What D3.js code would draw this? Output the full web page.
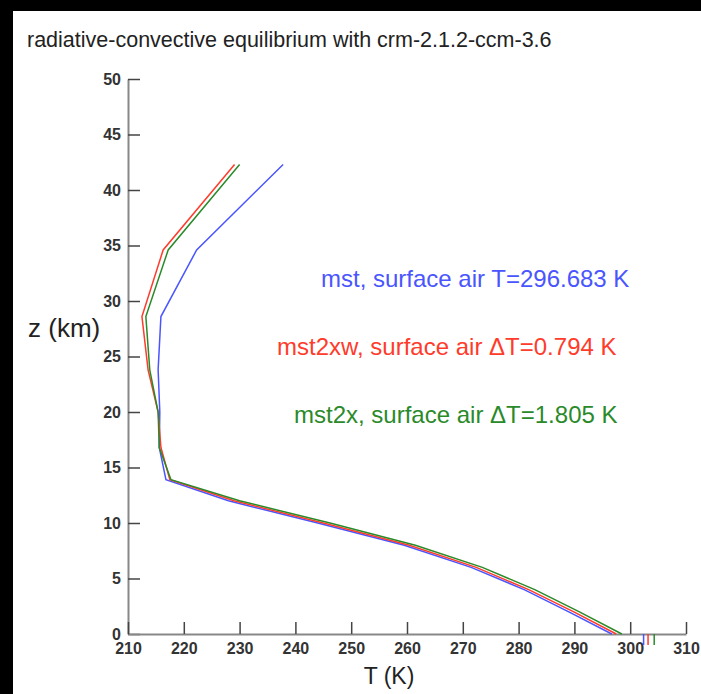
<!DOCTYPE html>
<html>
<head>
<meta charset="utf-8">
<script src="https://cdn.jsdelivr.net/npm/d3@7"></script>
<style>
  body { margin: 0; background: #000; }
  svg { display: block; font-family: "Liberation Sans", Arial, sans-serif; }
  .axis path.domain { stroke: #888; stroke-width: 2; }
  .axis .tick line { stroke: #444; stroke-width: 1.5; }
  .axis .tick text { fill: #333; font-size: 16px; font-weight: bold; }
</style>
</head>
<body>
<div id="chart"></div>
<script>

// temperature profiles (K) at heights (km)
var zLevels  = [0, 2, 4, 6, 8, 10, 12, 13.9, 16.8, 20, 23.8, 28.6, 34.6, 42.3];
var tMst     = [296.7, 289.0, 281.0, 271.5, 259.5, 244.0, 228.0, 216.8, 215.6, 215.7, 215.4, 215.9, 222.3, 237.8];
var tMst2xw  = [297.5, 289.9, 281.8, 272.4, 260.4, 245.0, 229.0, 217.5, 215.9, 215.4, 213.6, 212.5, 216.3, 229.1];
var tMst2x   = [298.5, 290.9, 282.9, 273.5, 261.5, 246.2, 230.0, 217.7, 215.6, 215.4, 213.9, 213.2, 217.2, 230.0];

// ground temperatures marked under the axis
var groundT = [302.4, 303.2, 304.3];

var seriesNames  = ["mst", "mst2xw", "mst2x"];
var seriesColors = ["#4a55ff", "#ff3b2b", "#2a8a2a"];
var legendTexts  = ["mst, surface air T=296.683 K",
                    "mst2xw, surface air \u0394T=0.794 K",
                    "mst2x, surface air \u0394T=1.805 K"];

var xTicks = [210, 220, 230, 240, 250, 260, 270, 280, 290, 300, 310];
var yTicks = [0, 5, 10, 15, 20, 25, 30, 35, 40, 45, 50];

var svg_dx = 701,
    svg_dy = 694;

var x = d3.scaleLinear().domain([210, 310]).range([128, 686]),
    y = d3.scaleLinear().domain([0, 50]).range([634, 79]);

var svg = d3.select("#chart")
            .append("svg")
            .attr("width", svg_dx)
            .attr("height", svg_dy);

// white page inside the black frame
svg.append("rect")
   .attr("x", 13)
   .attr("y", 11)
   .attr("width", svg_dx - 13)
   .attr("height", svg_dy - 11)
   .attr("fill", "#fff");

svg.append("text")
   .attr("x", 27)
   .attr("y", 47)
   .style("font-size", "21.5px")
   .style("fill", "#222")
   .text("radiative-convective equilibrium with crm-2.1.2-ccm-3.6");

// axes, ticks pointing inward
svg.append("g")
   .attr("class", "axis")
   .attr("transform", "translate(" + x(210) + ",0)")
   .call(d3.axisLeft(y).tickValues(yTicks).tickSizeInner(-12).tickSizeOuter(0).tickPadding(7));

svg.append("g")
   .attr("class", "axis")
   .attr("transform", "translate(0," + y(0) + ")")
   .call(d3.axisBottom(x).tickValues(xTicks).tickSizeInner(-12).tickSizeOuter(0).tickPadding(9));

svg.append("text")
   .attr("x", 28)
   .attr("y", 337)
   .style("font-size", "26px")
   .style("fill", "#222")
   .text("z (km)");

svg.append("text")
   .attr("x", 389)
   .attr("y", 684)
   .attr("text-anchor", "middle")
   .style("font-size", "23px")
   .style("fill", "#222")
   .text("T (K)");

var profiles = [tMst, tMst2xw, tMst2x];

var line = d3.line()
    .x(d => x(d[0]))
    .y(d => y(d[1]));

profiles.forEach(function (temps, i) {
    svg.append("path")
       .datum(temps.map((t, j) => [t, zLevels[j]]))
       .attr("class", "profile " + seriesNames[i])
       .attr("fill", "none")
       .attr("stroke", seriesColors[i])
       .attr("stroke-width", 1.5)
       .attr("d", line);
});

svg.append("g")
   .selectAll("line")
   .data(groundT)
   .enter()
   .append("line")
   .attr("x1", d => x(d))
   .attr("x2", d => x(d))
   .attr("y1", y(0))
   .attr("y2", y(0) + 11)
   .attr("stroke", (d, i) => seriesColors[i])
   .attr("stroke-width", 1.5);

var legendPos = [[321, 287], [277, 355], [294, 423]];

svg.append("g")
   .selectAll("text")
   .data(legendTexts)
   .enter()
   .append("text")
   .attr("x", (d, i) => legendPos[i][0])
   .attr("y", (d, i) => legendPos[i][1])
   .style("font-size", "24px")
   .style("fill", (d, i) => seriesColors[i])
   .text(d => d);

</script>
</body>
</html>
